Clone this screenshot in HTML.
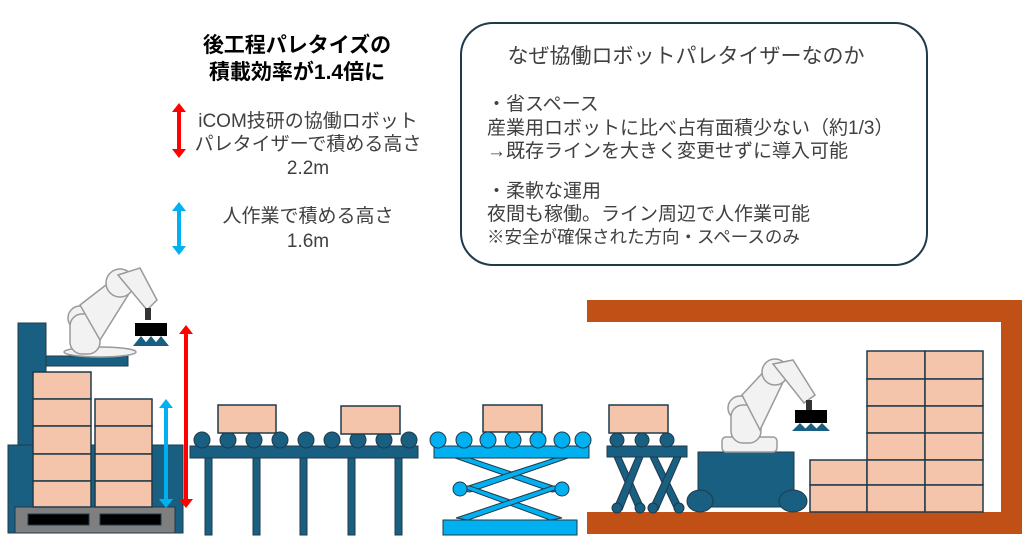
<!DOCTYPE html>
<html><head><meta charset="utf-8"><style>
html,body{margin:0;padding:0;background:#fff;}
svg{display:block;}
text{font-family:"Liberation Sans","Noto Sans CJK JP",sans-serif;fill:#404040;}
</style></head><body>
<svg width="1024" height="557" viewBox="0 0 1024 557" xmlns="http://www.w3.org/2000/svg">
<!-- Top-left text -->
<text x="297" y="52" font-size="21" font-weight="bold" text-anchor="middle" style="fill:#000">後工程パレタイズの</text>
<text x="297" y="79" font-size="21" font-weight="bold" text-anchor="middle" style="fill:#000">積載効率が1.4倍に</text>
<text x="308" y="127" font-size="19" text-anchor="middle">iCOM技研の協働ロボット</text>
<text x="308" y="150" font-size="19" text-anchor="middle">パレタイザーで積める高さ</text>
<text x="308" y="174" font-size="19" text-anchor="middle">2.2m</text>
<text x="308" y="222" font-size="19" text-anchor="middle">人作業で積める高さ</text>
<text x="308" y="247" font-size="19" text-anchor="middle">1.6m</text>
<g stroke-width="4">
<line x1="179" y1="109" x2="179" y2="152" stroke="#ff0000"/>
<polygon points="179,103 186,112 172,112" fill="#ff0000"/>
<polygon points="179,158 186,149 172,149" fill="#ff0000"/>
<line x1="179" y1="208" x2="179" y2="249" stroke="#00b0f0"/>
<polygon points="179,202 186,211 172,211" fill="#00b0f0"/>
<polygon points="179,255 186,246 172,246" fill="#00b0f0"/>
</g>
<!-- Right box -->
<rect x="461" y="23" width="466" height="242" rx="32" fill="#fff" stroke="#1f3a4a" stroke-width="2"/>
<text x="686" y="63" font-size="21" text-anchor="middle">なぜ協働ロボットパレタイザーなのか</text>
<g font-size="19">
<text x="487" y="110">・省スペース</text>
<text x="487" y="134">産業用ロボットに比べ占有面積少ない（約1/3）</text>
<text x="487" y="157">→既存ラインを大きく変更せずに導入可能</text>
<text x="487" y="197">・柔軟な運用</text>
<text x="487" y="220">夜間も稼働。ライン周辺で人作業可能</text>
<text x="487" y="243" font-size="17.5">※安全が確保された方向・スペースのみ</text>
</g>

<!-- Left palletizer -->
<g stroke="#1f3a4a" stroke-width="1">
<rect x="18" y="323" width="28" height="210" fill="#185f82"/>
<rect x="46" y="356" width="82" height="10" fill="#185f82"/>
<rect x="8" y="445" width="175" height="88" fill="#185f82"/>
<rect x="15" y="507" width="160" height="26" fill="#7f7f7f"/>
<rect x="28" y="514" width="61" height="11" fill="#000"/>
<rect x="100" y="514" width="61" height="11" fill="#000"/>
<g fill="#f4c5ab" stroke="#1f3a4a" stroke-width="1.5">
<rect x="33" y="372" width="58" height="27"/>
<rect x="33" y="399" width="58" height="27"/>
<rect x="33" y="426" width="58" height="28"/>
<rect x="33" y="454" width="58" height="27"/>
<rect x="33" y="481" width="58" height="26"/>
<rect x="95" y="399" width="57" height="27"/>
<rect x="95" y="426" width="57" height="28"/>
<rect x="95" y="454" width="57" height="27"/>
<rect x="95" y="481" width="57" height="26"/>
</g>
</g>
<!-- Robot 1 -->
<g stroke="#9a9a9a" stroke-width="1.5" fill="#f2f2f2">
<ellipse cx="100" cy="352" rx="36" ry="5"/>
<circle cx="80" cy="318" r="12"/>
<rect x="70" y="314" width="30" height="40" rx="12"/>
<path d="M80,305 L115,278 L130,292 L100,340 Z"/>
<circle cx="120" cy="283" r="14"/>
<path d="M118,275 L140,268 L157,300 L147,310 Z"/>
</g>
<rect x="145" y="308" width="6" height="12" fill="#333"/>
<rect x="135" y="323" width="32" height="13" fill="#000"/>
<polygon points="133,346 141,336 149,346" fill="#185f82"/>
<polygon points="143,346 151,336 159,346" fill="#185f82"/>
<polygon points="153,346 161,336 169,346" fill="#185f82"/>
<!-- height arrows near pallet -->
<line x1="166" y1="405" x2="166" y2="502" stroke="#00b0f0" stroke-width="4"/>
<polygon points="166,399 173,408 159,408" fill="#00b0f0"/>
<polygon points="166,508 173,499 159,499" fill="#00b0f0"/>
<line x1="186" y1="331" x2="186" y2="502" stroke="#ff0000" stroke-width="4"/>
<polygon points="186,325 193,334 179,334" fill="#ff0000"/>
<polygon points="186,508 193,499 179,499" fill="#ff0000"/>

<!-- Conveyor 1 -->
<g fill="#185f82" stroke="#1f3a4a" stroke-width="1">
<rect x="190" y="446" width="228" height="12"/>
<rect x="205" y="458" width="7" height="77"/>
<rect x="253" y="458" width="7" height="77"/>
<rect x="300" y="458" width="7" height="77"/>
<rect x="348" y="458" width="7" height="77"/>
<rect x="395" y="458" width="7" height="77"/>
<circle cx="202" cy="440" r="8"/><circle cx="228" cy="440" r="8"/><circle cx="254" cy="440" r="8"/>
<circle cx="280" cy="440" r="8"/><circle cx="306" cy="440" r="8"/><circle cx="332" cy="440" r="8"/>
<circle cx="358" cy="440" r="8"/><circle cx="384" cy="440" r="8"/><circle cx="409" cy="440" r="8"/>
</g>
<g fill="#f4c5ab" stroke="#1f3a4a" stroke-width="1.5">
<rect x="218" y="405" width="58" height="28"/>
<rect x="341" y="406" width="59" height="28"/>
<rect x="483" y="405" width="59" height="27"/>
<rect x="609" y="405" width="59" height="28"/>
</g>

<!-- Lift table -->
<g fill="#00b0f0" stroke="#1f3a4a" stroke-width="1">
<polygon points="455,458 470,458 565,490 552,492"/>
<polygon points="555,458 568,458 470,492 456,490"/>
<polygon points="458,486 470,486 562,518 550,520"/>
<polygon points="552,486 566,486 468,520 456,518"/>
<circle cx="460" cy="489" r="7"/><circle cx="562" cy="489" r="7"/>
<rect x="434" y="446" width="155" height="12"/>
<rect x="443" y="520" width="134" height="15"/>
<circle cx="438" cy="440" r="8"/><circle cx="464" cy="440" r="8"/><circle cx="488" cy="440" r="8"/>
<circle cx="513" cy="440" r="8"/><circle cx="538" cy="440" r="8"/><circle cx="562" cy="440" r="8"/><circle cx="583" cy="440" r="8"/>
</g>

<!-- Orange frame -->
<g fill="#c05016">
<rect x="587" y="300" width="435" height="22"/>
<rect x="1001" y="300" width="21" height="234"/>
<rect x="587" y="512" width="435" height="22"/>
</g>

<!-- Small scissor -->
<g fill="#185f82" stroke="#1f3a4a" stroke-width="1">
<polygon points="614,457 621,457 644,508 637,510"/>
<polygon points="636,457 643,457 622,510 614,508"/>
<polygon points="650,457 657,457 682,508 675,510"/>
<polygon points="674,457 681,457 658,510 650,508"/>
<rect x="607" y="446" width="80" height="11"/>
<circle cx="617" cy="440" r="7"/><circle cx="642" cy="440" r="7"/><circle cx="667" cy="440" r="7"/>
<circle cx="617" cy="508" r="5"/><circle cx="640" cy="508" r="5"/><circle cx="653" cy="508" r="5"/><circle cx="679" cy="508" r="5"/>
</g>

<!-- Robot cart -->
<g fill="#185f82" stroke="#1f3a4a" stroke-width="1">
<rect x="698" y="452" width="96" height="55"/>
<ellipse cx="700" cy="501" rx="13" ry="11"/>
<ellipse cx="793" cy="501" rx="14" ry="11"/>
</g>
<g stroke="#9a9a9a" stroke-width="1.5" fill="#f2f2f2">
<rect x="722" y="437" width="55" height="15" rx="4"/>
<circle cx="740" cy="408" r="12"/>
<rect x="731" y="405" width="30" height="38" rx="12"/>
<path d="M742,395 L770,365 L785,378 L760,430 Z"/>
<circle cx="775" cy="372" r="13"/>
<path d="M773,364 L793,360 L815,395 L804,403 Z"/>
</g>
<rect x="806" y="400" width="6" height="10" fill="#333"/>
<rect x="795" y="410" width="32" height="13" fill="#000"/>
<polygon points="792,431 800,423 808,431" fill="#185f82"/>
<polygon points="803,431 811,423 819,431" fill="#185f82"/>
<polygon points="814,431 822,423 830,431" fill="#185f82"/>

<!-- Right box stack -->
<g fill="#f4c5ab" stroke="#1f3a4a" stroke-width="1.5">
<rect x="810" y="460" width="57" height="25"/><rect x="810" y="485" width="57" height="27"/>
<rect x="867" y="351" width="58" height="28"/><rect x="925" y="351" width="58" height="28"/>
<rect x="867" y="379" width="58" height="27"/><rect x="925" y="379" width="58" height="27"/>
<rect x="867" y="406" width="58" height="27"/><rect x="925" y="406" width="58" height="27"/>
<rect x="867" y="433" width="58" height="27"/><rect x="925" y="433" width="58" height="27"/>
<rect x="867" y="460" width="58" height="25"/><rect x="925" y="460" width="58" height="25"/>
<rect x="867" y="485" width="58" height="27"/><rect x="925" y="485" width="58" height="27"/>
</g>
</svg>
</body></html>
